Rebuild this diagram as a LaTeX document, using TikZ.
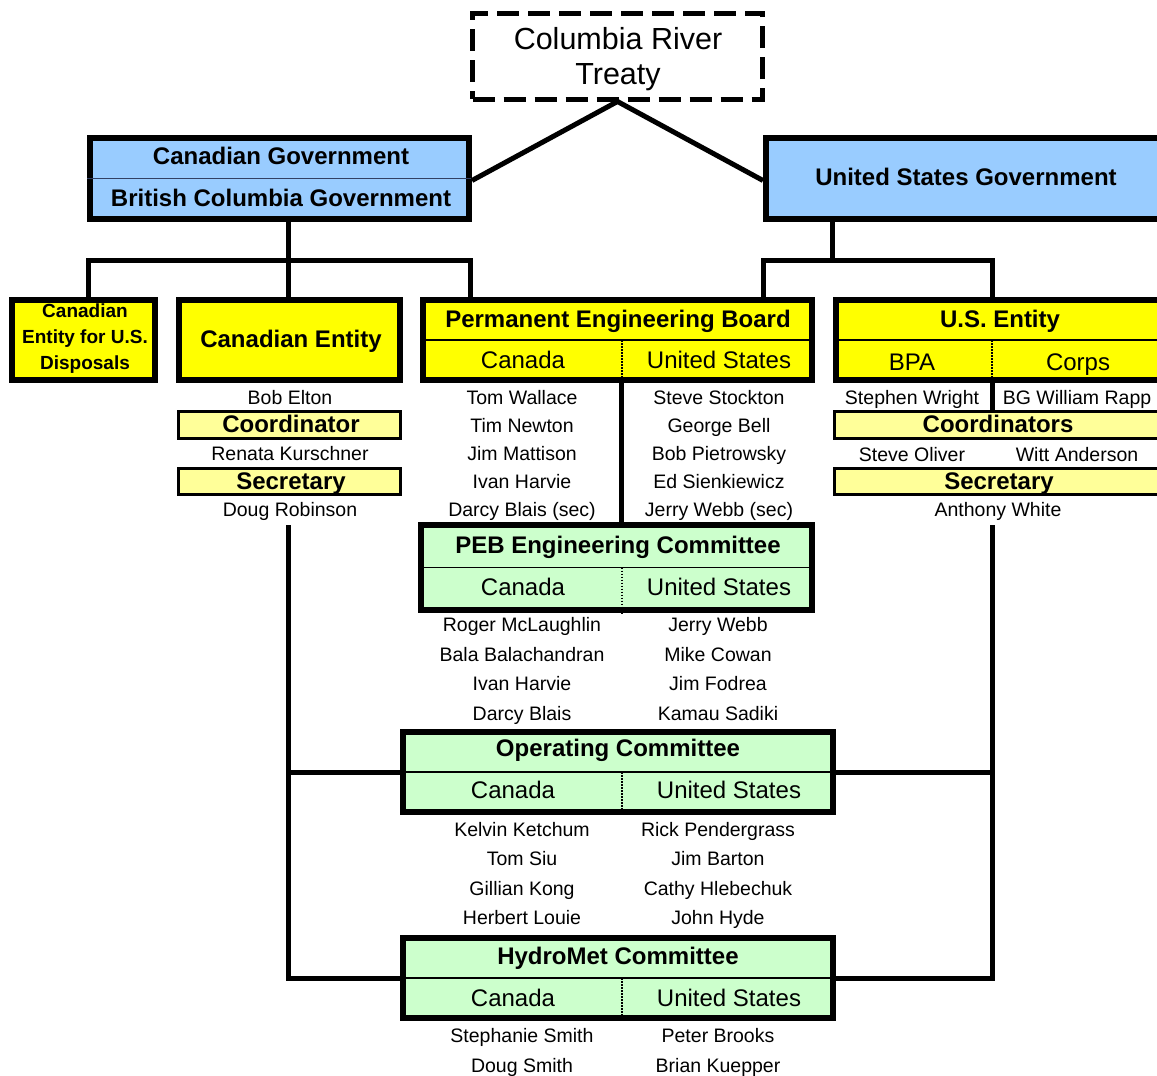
\documentclass[tikz,border=0pt]{standalone}
\usepackage{fontspec}
\setmainfont{Liberation Sans}
\definecolor{govblue}{HTML}{99CCFF}
\definecolor{entyellow}{HTML}{FFFF00}
\definecolor{ltyellow}{HTML}{FFFF99}
\definecolor{comgreen}{HTML}{CCFFCC}
\definecolor{splitblue}{RGB}{50,64,100}
\begin{document}
\begin{tikzpicture}[x=1pt,y=-1pt,
  box/.style={draw, line width=6pt, rectangle, inner sep=0pt},
  subbox/.style={draw, line width=3pt, rectangle, inner sep=0pt, fill=ltyellow},
  conn/.style={line width=5pt, line join=miter},
  ttl/.style={font=\bfseries\fontsize{24}{28}\selectfont, inner sep=0pt, text height=17pt, text depth=0pt},
  sub/.style={font=\fontsize{24}{28}\selectfont, inner sep=0pt, text height=17pt, text depth=0pt},
  nm/.style={font=\fontsize{19.5}{22}\selectfont, inner sep=0pt, text height=14pt, text depth=0pt},
  splitline/.style={line width=1.3pt},
  divline/.style={line width=2pt, dash pattern=on 1.5pt off 1.5pt}
]
\useasboundingbox[fill=white] (0,0) rectangle (1157,1076);

% ---------- treaty ----------
\node[draw, line width=5pt, dash pattern=on 22pt off 9pt, rectangle, inner sep=0pt,
      minimum width=290pt, minimum height=86pt] (tr) at (617.5,56) {};
\node[font=\fontsize{30.5}{35}\selectfont, align=center, inner sep=0pt] (trt) at (618,59) {Columbia River\\Treaty};

% ---------- governments ----------
\node[box, fill=govblue, minimum width=379pt, minimum height=81pt] (cg) at (279.5,178.5) {};
\draw[splitline, splitblue] (cg.west) -- (cg.east);
\node[ttl] (cgt1) at (281,156) {Canadian Government};
\node[ttl] (cgt2) at (281,198) {British Columbia Government};

\node[box, fill=govblue, minimum width=401pt, minimum height=81pt] (ug) at (966.5,178.5) {};
\node[ttl] (ugt) at (966,177) {United States Government};

\draw[conn] (tr.south) -- ([yshift=-2pt]cg.east);
\draw[conn] (tr.south) -- ([yshift=-2pt]ug.west);

% ---------- second level boxes ----------
\node[box, fill=entyellow, minimum width=143pt, minimum height=80pt] (cd) at (83.5,340) {};
\node[font=\bfseries\fontsize{19}{26}\selectfont, align=center, inner sep=0pt] (cdt) at (85,339) {Canadian\\Entity for U.S.\\Disposals};

\node[box, fill=entyellow, minimum width=221pt, minimum height=80pt] (ce) at (289.5,340) {};
\node[ttl] (cet) at (291,339) {Canadian Entity};

\node[box, fill=entyellow, minimum width=389pt, minimum height=80pt] (peb) at (617.5,340) {};
\draw[splitline] (peb.west) -- (peb.east);
\coordinate (pdiv) at (622,340);
\draw[divline] (pdiv) -- (pdiv |- peb.south);
\node[ttl] (pebt) at (618,319) {Permanent Engineering Board};
\node[sub] (pebc) at (523,360) {Canada};
\node[sub] (pebu) at (719,360) {United States};

\node[box, fill=entyellow, minimum width=331pt, minimum height=80pt] (ue) at (1001.5,340) {};
\draw[splitline] (ue.west) -- (ue.east);
\coordinate (udiv) at (992,340);
\draw[divline] (udiv) -- (udiv |- ue.south);
\node[ttl] (uet) at (1000,319) {U.S. Entity};
\node[sub] (ueb) at (912,362) {BPA};
\node[sub] (uec) at (1078,362) {Corps};

% ---------- connectors from governments ----------
\coordinate (jc) at (288,260);
\coordinate (pebL) at (470,300);
\draw[conn] (cd.north -| 88,0) |- (jc) -| (pebL);
\draw[conn] (cg.south -| jc) -- (ce.north -| jc);

\coordinate (ju) at (832,260);
\coordinate (pebR) at (763,300);
\coordinate (ueT) at (992,300);
\draw[conn] (pebR) |- (ju) -| (ueT);
\draw[conn] (ug.south -| ju) -- (ju);

% ---------- Canadian entity staff ----------
\node[nm] (n1) at (290,397) {Bob Elton};
\node[subbox, minimum width=222pt, minimum height=27pt] (ccoord) at (289.5,425) {};
\node[ttl] (ccoordt) at (291,424) {Coordinator};
\node[nm] (n2) at (290,453) {Renata Kurschner};
\node[subbox, minimum width=222pt, minimum height=26pt] (csec) at (289.5,481.5) {};
\node[ttl] (csect) at (291,481) {Secretary};
\node[nm] (n3) at (290,509) {Doug Robinson};

% ---------- US entity staff ----------
\node[nm] (u1) at (912,397) {Stephen Wright};
\node[nm] (u2) at (1077,397) {BG William Rapp};
\node[subbox, minimum width=334pt, minimum height=27pt] (ucoord) at (1001.5,425) {};
\node[ttl] (ucoordt) at (998,424) {Coordinators};
\draw[conn] (ue.south -| udiv) -- (ucoord.north -| udiv);
\node[nm] (u3) at (912,454) {Steve Oliver};
\node[nm] (u4) at (1077,454) {Witt Anderson};
\node[subbox, minimum width=334pt, minimum height=26pt] (usec) at (1001.5,481.5) {};
\node[ttl] (usect) at (999,481) {Secretary};
\node[nm] (u5) at (998,509) {Anthony White};

% ---------- PEB members ----------
\foreach \i/\a/\b in {1/Tom Wallace/Steve Stockton, 2/Tim Newton/George Bell, 3/Jim Mattison/Bob Pietrowsky, 4/Ivan Harvie/Ed Sienkiewicz, 5/Darcy Blais (sec)/Jerry Webb (sec)}{
  \node[nm] (pl\i) at (522,369+28*\i) {\a};
  \node[nm] (pr\i) at (719,369+28*\i) {\b};
}

% ---------- PEB Engineering Committee ----------
\node[box, fill=comgreen, minimum width=391pt, minimum height=85pt] (pebe) at (616.5,567.5) {};
\draw[splitline] (pebe.west) -- (pebe.east);
\coordinate (ediv) at (622,567.5);
\draw[divline] (ediv) -- (ediv |- pebe.south);
\node[ttl] (pebet) at (618,545) {PEB Engineering Committee};
\node[sub] (pebec) at (523,587) {Canada};
\node[sub] (pebeu) at (719,587) {United States};
\coordinate (vdrop) at (621,0);
\draw[conn] (peb.south -| vdrop) -- (pebe.north -| vdrop);

\foreach \i/\a/\b in {1/Roger McLaughlin/Jerry Webb, 2/Bala Balachandran/Mike Cowan, 3/Ivan Harvie/Jim Fodrea, 4/Darcy Blais/Kamau Sadiki}{
  \node[nm] (el\i) at (522,595+29.5*\i) {\a};
  \node[nm] (er\i) at (718,595+29.5*\i) {\b};
}

% ---------- Operating Committee ----------
\node[box, fill=comgreen, minimum width=430pt, minimum height=80pt] (op) at (618,772) {};
\draw[splitline] (op.west) -- (op.east);
\coordinate (odiv) at (622,772);
\draw[divline] (odiv) -- (odiv |- op.south);
\node[ttl] (opt) at (618,748) {Operating Committee};
\node[sub] (opc) at (513,790) {Canada};
\node[sub] (opu) at (729,790) {United States};

\foreach \i/\a/\b in {1/Kelvin Ketchum/Rick Pendergrass, 2/Tom Siu/Jim Barton, 3/Gillian Kong/Cathy Hlebechuk, 4/Herbert Louie/John Hyde}{
  \node[nm] (ol\i) at (522,799.5+29.5*\i) {\a};
  \node[nm] (or\i) at (718,799.5+29.5*\i) {\b};
}

% ---------- HydroMet Committee ----------
\node[box, fill=comgreen, minimum width=430pt, minimum height=80pt] (hm) at (618,978) {};
\draw[splitline] (hm.west) -- (hm.east);
\coordinate (hdiv) at (622,978);
\draw[divline] (hdiv) -- (hdiv |- hm.south);
\node[ttl] (hmt) at (618,956) {HydroMet Committee};
\node[sub] (hmc) at (513,998) {Canada};
\node[sub] (hmu) at (729,998) {United States};

\foreach \i/\a/\b in {1/Stephanie Smith/Peter Brooks, 2/Doug Smith/Brian Kuepper}{
  \node[nm] (hl\i) at (522,1006+29.5*\i) {\a};
  \node[nm] (hr\i) at (718,1006+29.5*\i) {\b};
}

% ---------- trunks to committees ----------
\coordinate (lt) at (288,525);
\coordinate (rt) at (992,525);
\draw[conn] (lt) |- (hm.west);
\draw[conn] (lt |- op.west) -- (op.west);
\draw[conn] (rt) |- (hm.east);
\draw[conn] (rt |- op.east) -- (op.east);
\end{tikzpicture}
\end{document}
